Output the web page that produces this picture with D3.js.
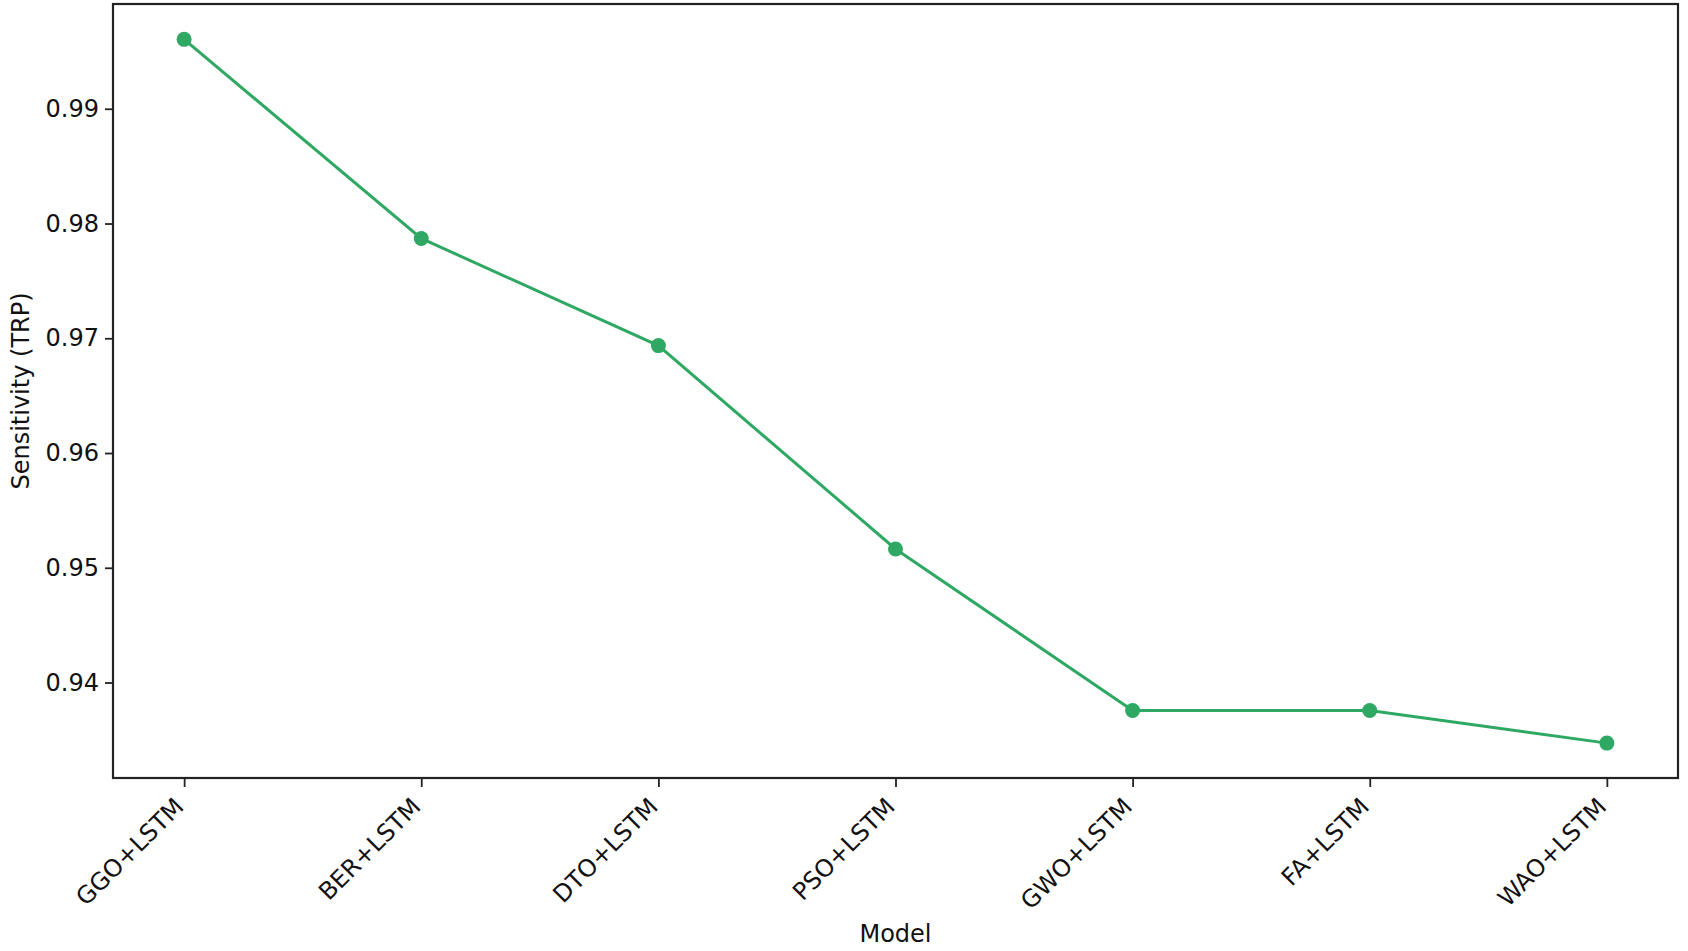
<!DOCTYPE html>
<html>
<head>
<meta charset="utf-8">
<script src="https://cdn.jsdelivr.net/npm/d3@7"></script>
<style>
  html, body { margin: 0; padding: 0; background: #fff; }
  text { font-family: "DejaVu Sans", sans-serif; fill: #111; }
</style>
</head>
<body>
<svg id="chart" width="1688" height="951"></svg>
<script>
// Data
const models = ['GGO+LSTM', 'BER+LSTM', 'DTO+LSTM', 'PSO+LSTM', 'GWO+LSTM', 'FA+LSTM', 'WAO+LSTM'];
const sensitivity = [0.99605, 0.97870, 0.96936, 0.95164, 0.93756, 0.93756, 0.93472];
const yTicks = [0.94, 0.95, 0.96, 0.97, 0.98, 0.99];
const yDomain = [0.93168, 0.99913];

const svg = d3.select('#chart');
const W = 1688, H = 951;
const margin = { top: 4, right: 10, bottom: 173, left: 113 };
const x0 = margin.left, x1 = W - margin.right;
const y0 = H - margin.bottom, y1 = margin.top;
const fontSize = '24px';

svg.append('rect').attr('width', W).attr('height', H).attr('fill', '#fff');

// scales (matplotlib style 5% margins)
const xScale = d3.scalePoint().domain(models).range([x0, x1]).padding(0.3);
const yScale = d3.scaleLinear().domain(yDomain).range([y0, y1]);

const lineColor = '#2ea862';

// y axis
const yAxis = svg.append('g')
  .attr('transform', `translate(${x0},0)`)
  .call(d3.axisLeft(yScale).tickValues(yTicks).tickFormat(d3.format('.2f')).tickSize(8).tickPadding(6));
yAxis.select('.domain').remove();
yAxis.selectAll('line').attr('stroke', '#222').attr('stroke-width', 1.8);
yAxis.selectAll('text').style('font-size', fontSize).attr('fill', '#111');

// x axis
const xAxis = svg.append('g')
  .attr('transform', `translate(0,${y0})`)
  .call(d3.axisBottom(xScale).tickSize(9).tickFormat(''));
xAxis.select('.domain').remove();
xAxis.selectAll('line').attr('stroke', '#222').attr('stroke-width', 1.8);

// rotated tick labels
svg.append('g').selectAll('text')
  .data(models)
  .enter().append('text')
  .attr('transform', d => `translate(${xScale(d) + 1},${y0 + 30}) rotate(-45)`)
  .attr('text-anchor', 'end')
  .style('font-size', fontSize)
  .text(d => d);

// frame
svg.append('rect')
  .attr('x', x0).attr('y', y1)
  .attr('width', x1 - x0).attr('height', y0 - y1)
  .attr('fill', 'none')
  .attr('stroke', '#222')
  .attr('stroke-width', 2.2);

// line
const line = d3.line()
  .x((d, i) => xScale(models[i]))
  .y(d => yScale(d));

svg.append('path')
  .datum(sensitivity)
  .attr('fill', 'none')
  .attr('stroke', lineColor)
  .attr('stroke-width', 3)
  .attr('d', line);

svg.selectAll('.dot')
  .data(sensitivity)
  .enter().append('circle')
  .attr('class', 'dot')
  .attr('cx', (d, i) => xScale(models[i]))
  .attr('cy', d => yScale(d))
  .attr('r', 7.5)
  .attr('fill', lineColor);

// axis labels
svg.append('text')
  .attr('x', (x0 + x1) / 2)
  .attr('y', 942)
  .attr('text-anchor', 'middle')
  .style('font-size', fontSize)
  .text('Model');

svg.append('text')
  .attr('transform', `translate(29,${(y0 + y1) / 2}) rotate(-90)`)
  .attr('text-anchor', 'middle')
  .style('font-size', fontSize)
  .text('Sensitivity (TRP)');
</script>
</body>
</html>
